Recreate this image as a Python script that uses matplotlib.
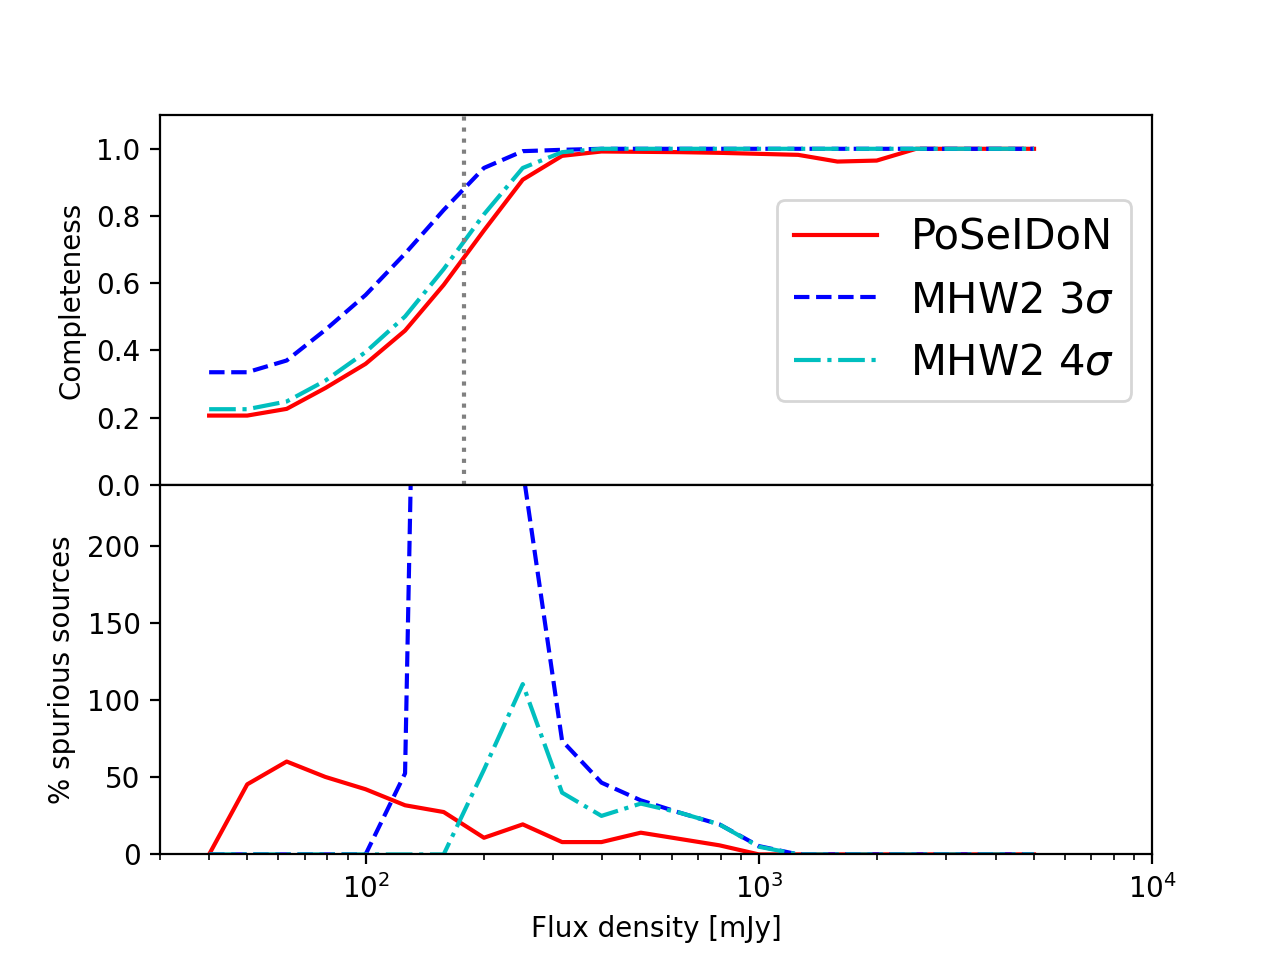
import numpy as np
import matplotlib
matplotlib.use('Agg')
import matplotlib.pyplot as plt

######################################################
# Flux bins [mJy]
flux = [40, 50, 63, 79, 100, 126, 158, 200, 251, 316, 398,
        501, 631, 794, 1000, 1259, 1585, 1995, 2512, 3162, 3981, 5012]

# Completeness per method
comp_poseidon = [0.206, 0.206, 0.226, 0.288, 0.360, 0.459, 0.595, 0.757, 0.908, 0.979, 0.992,
                 0.991, 0.990, 0.988, 0.985, 0.982, 0.962, 0.965, 1.0, 1.0, 1.0, 1.0]
comp_mhw2_3s = [0.335, 0.335, 0.370, 0.461, 0.565, 0.688, 0.818, 0.943, 0.993, 0.997, 1.0,
                1.0, 1.0, 1.0, 1.0, 1.0, 1.0, 1.0, 1.0, 1.0, 1.0, 1.0]
comp_mhw2_4s = [0.225, 0.225, 0.248, 0.310, 0.395, 0.501, 0.642, 0.805, 0.943, 0.990, 1.0,
                1.0, 1.0, 1.0, 1.0, 1.0, 1.0, 1.0, 1.0, 1.0, 1.0, 1.0]

# Percentage of spurious sources per method
spur_poseidon = [0, 45.5, 60.3, 50.3, 42.3, 31.9, 27.5, 10.8, 19.5, 8.0, 8.0,
                 14.1, 10.0, 5.9, 0, 0, 0, 0, 0, 0, 0, 0]
spur_mhw2_3s = [0, 0, 0, 0, 0, 52.6, 1350, 900, 250, 73.8, 46.6,
                35.1, 27.0, 19.5, 5.4, 0, 0, 0, 0, 0, 0, 0]
spur_mhw2_4s = [0, 0, 0, 0, 0, 0, 0, 55, 110.6, 40.1, 25.0,
                33.0, 27.0, 19.5, 5.0, 0, 0, 0, 0, 0, 0, 0]

flux_limit = 178

######################################################
fig, (ax1, ax2) = plt.subplots(2, 1, sharex=True, figsize=(6.4, 4.8), dpi=200)
fig.subplots_adjust(hspace=0)

ax1.plot(flux, comp_poseidon, 'r-', label='PoSeIDoN')
ax1.plot(flux, comp_mhw2_3s, 'b--', label=r'MHW2 $3\sigma$')
ax1.plot(flux, comp_mhw2_4s, 'c-.', label=r'MHW2 $4\sigma$')
ax1.axvline(flux_limit, color='gray', ls=':')
ax1.set_ylim(0, 1.1)
ax1.set_yticks([0.0, 0.2, 0.4, 0.6, 0.8, 1.0])
ax1.set_ylabel('Completeness')
ax1.legend(loc='center right', fontsize=15)
ax1.tick_params(axis='x', which='both', bottom=False, labelbottom=False)

ax2.plot(flux, spur_poseidon, 'r-')
ax2.plot(flux, spur_mhw2_3s, 'b--')
ax2.plot(flux, spur_mhw2_4s, 'c-.')
ax2.set_xscale('log')
ax2.set_xlim(30, 1e4)
ax2.set_ylim(0, 240)
ax2.set_yticks([0, 50, 100, 150, 200])
ax2.set_ylabel('% spurious sources')
ax2.set_xlabel('Flux density [mJy]')

plt.savefig('out.png')
